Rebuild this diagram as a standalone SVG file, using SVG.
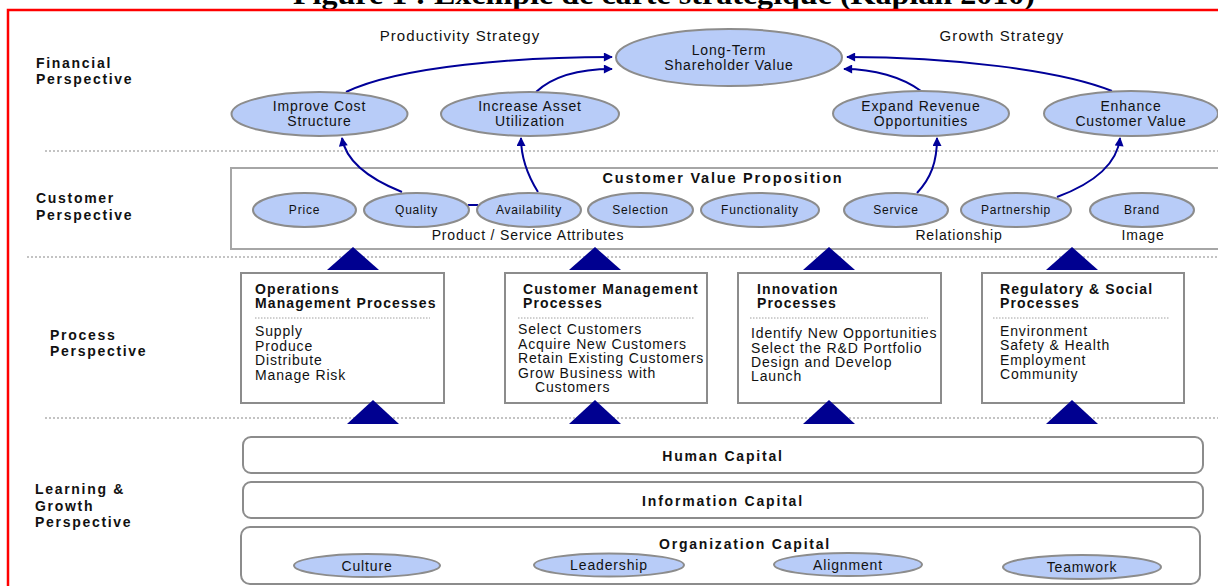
<svg xmlns="http://www.w3.org/2000/svg" width="1218" height="586" viewBox="0 0 1218 586">
<style>
text{font-family:"Liberation Sans",Arial,sans-serif;fill:#111;}
.title{font-family:"Liberation Serif","Times New Roman",serif;font-size:30px;font-weight:bold;fill:#000;}
.lbl{font-size:14px;font-weight:bold;letter-spacing:1.7px;}
.hd{font-size:15px;letter-spacing:1.1px;text-anchor:middle;}
.e{fill:#b8ccf8;stroke:#8c8c8c;stroke-width:2;}
.et{font-size:14px;letter-spacing:0.85px;text-anchor:middle;}
.es{font-size:12px;letter-spacing:0.8px;text-anchor:middle;}
.bx{fill:#fff;stroke:#8c8c8c;stroke-width:2;}
.cbx{fill:#fff;stroke:#a6a6a6;stroke-width:2;}
.bh{font-size:14px;font-weight:bold;letter-spacing:1.1px;}
.bt{font-size:14px;letter-spacing:0.85px;}
.ct{font-size:14px;letter-spacing:0.85px;text-anchor:middle;}
.cap{font-size:14px;font-weight:bold;letter-spacing:1.8px;text-anchor:middle;}
.sep{stroke:#b0b0b0;stroke-width:1.5;stroke-dasharray:2 2;fill:none;}
.isep{stroke:#a0a0a0;stroke-width:1;stroke-dasharray:1.5 1.5;fill:none;}
.tri{fill:#000090;}
.c{fill:none;stroke:#000099;stroke-width:2;}
</style>
<defs>
<marker id="ah" viewBox="0 0 10 10" refX="9" refY="5" markerWidth="10" markerHeight="9" markerUnits="userSpaceOnUse" orient="auto"><path d="M0,0 L10,5 L0,10 z" fill="#000099"/></marker>
</defs>
<rect x="0" y="0" width="1218" height="586" fill="#fff"/>
<text class="title" x="664" y="4" text-anchor="middle" textLength="742" lengthAdjust="spacingAndGlyphs">Figure 1 : Exemple de carte stratégique (Kaplan 2010)</text>
<path d="M8,586 L8,10 L1218,10" fill="none" stroke="#ff0000" stroke-width="2.5"/>

<g id="separators">
<line class="sep" x1="45" y1="151" x2="1218" y2="151"/>
<line class="sep" x1="27" y1="257" x2="1218" y2="257"/>
<line class="sep" x1="45" y1="418" x2="1218" y2="418"/>
</g>

<g id="perspective-labels">
<text class="lbl" x="36" y="68">Financial</text>
<text class="lbl" x="36" y="84">Perspective</text>
<text class="lbl" x="36" y="203">Customer</text>
<text class="lbl" x="36" y="220">Perspective</text>
<text class="lbl" x="50" y="340">Process</text>
<text class="lbl" x="50" y="356">Perspective</text>
<text class="lbl" x="35" y="494">Learning &amp;</text>
<text class="lbl" x="35" y="511">Growth</text>
<text class="lbl" x="35" y="527">Perspective</text>
</g>

<g id="strategy-labels">
<text class="hd" x="460" y="41">Productivity Strategy</text>
<text class="hd" x="1002" y="41">Growth Strategy</text>
</g>

<g id="customer-value-proposition">
<rect class="cbx" x="231" y="168" width="1000" height="81"/>
<text class="cap" x="723" y="183" style="font-size:14.5px">Customer Value Proposition</text>
<text class="ct" x="528" y="240">Product / Service Attributes</text>
<text class="ct" x="959" y="240">Relationship</text>
<text class="ct" x="1143" y="240">Image</text>
</g>

<g id="connectors">
<path class="c" d="M346,92 C400,66 520,57 612,57" marker-end="url(#ah)"/>
<path class="c" d="M536,92 C552,77 578,69 612,69" marker-end="url(#ah)"/>
<path class="c" d="M921,91 C902,77 874,69 844,69" marker-end="url(#ah)"/>
<path class="c" d="M1112,91 C1060,70 950,57 847,57" marker-end="url(#ah)"/>
<path class="c" d="M402,192 C372,180 346,162 342,138" marker-end="url(#ah)"/>
<path class="c" d="M538,192 C528,176 521,158 521,138" marker-end="url(#ah)"/>
<path class="c" d="M917,193 C931,178 937,162 937,138" marker-end="url(#ah)"/>
<path class="c" d="M1057,197 C1092,184 1117,165 1120,138" marker-end="url(#ah)"/>
<line class="c" x1="468" y1="205" x2="478" y2="205"/>
</g>

<g id="long-term-shareholder-value">
<ellipse class="e" cx="729" cy="57.5" rx="113" ry="28.5"/>
<text class="et" x="729" y="55">Long-Term</text>
<text class="et" x="729" y="70">Shareholder Value</text>
</g>
<g id="improve-cost-structure">
<ellipse class="e" cx="319.5" cy="114" rx="88" ry="22"/>
<text class="et" x="319.5" y="111">Improve Cost</text>
<text class="et" x="319.5" y="126">Structure</text>
</g>
<g id="increase-asset-utilization">
<ellipse class="e" cx="530" cy="114" rx="89" ry="22"/>
<text class="et" x="530" y="111">Increase Asset</text>
<text class="et" x="530" y="126">Utilization</text>
</g>
<g id="expand-revenue-opportunities">
<ellipse class="e" cx="921" cy="113.5" rx="88" ry="22.5"/>
<text class="et" x="921" y="111">Expand Revenue</text>
<text class="et" x="921" y="126">Opportunities</text>
</g>
<g id="enhance-customer-value">
<ellipse class="e" cx="1131" cy="113.5" rx="87" ry="22.5"/>
<text class="et" x="1131" y="111">Enhance</text>
<text class="et" x="1131" y="126">Customer Value</text>
</g>

<g id="price"><ellipse class="e" cx="304.5" cy="210" rx="51.5" ry="17"/><text class="es" x="304.5" y="214">Price</text></g>
<g id="quality"><ellipse class="e" cx="416.5" cy="210" rx="52.5" ry="17"/><text class="es" x="416.5" y="214">Quality</text></g>
<g id="availability"><ellipse class="e" cx="529" cy="210" rx="52" ry="17"/><text class="es" x="529" y="214">Availability</text></g>
<g id="selection"><ellipse class="e" cx="640.5" cy="210" rx="52.5" ry="17"/><text class="es" x="640.5" y="214">Selection</text></g>
<g id="functionality"><ellipse class="e" cx="760" cy="210" rx="59" ry="17"/><text class="es" x="760" y="214">Functionality</text></g>
<g id="service"><ellipse class="e" cx="896" cy="210" rx="52" ry="17"/><text class="es" x="896" y="214">Service</text></g>
<g id="partnership"><ellipse class="e" cx="1016" cy="210" rx="55" ry="17"/><text class="es" x="1016" y="214">Partnership</text></g>
<g id="brand"><ellipse class="e" cx="1142" cy="210" rx="52" ry="17"/><text class="es" x="1142" y="214">Brand</text></g>

<g id="operations-management-processes">
<rect class="bx" x="241" y="273" width="203" height="130"/>
<text class="bh" x="255" y="294">Operations</text>
<text class="bh" x="255" y="308">Management Processes</text>
<line class="isep" x1="255" y1="318" x2="430" y2="318"/>
<text class="bt" x="255" y="336">Supply</text>
<text class="bt" x="255" y="350.5">Produce</text>
<text class="bt" x="255" y="365">Distribute</text>
<text class="bt" x="255" y="379.5">Manage Risk</text>
</g>
<g id="customer-management-processes">
<rect class="bx" x="505" y="273" width="202" height="130"/>
<text class="bh" x="523" y="294">Customer Management</text>
<text class="bh" x="523" y="308">Processes</text>
<line class="isep" x1="518" y1="318" x2="695" y2="318"/>
<text class="bt" x="518" y="334">Select Customers</text>
<text class="bt" x="518" y="348.5">Acquire New Customers</text>
<text class="bt" x="518" y="363">Retain Existing Customers</text>
<text class="bt" x="518" y="377.5">Grow Business with</text>
<text class="bt" x="535" y="392">Customers</text>
</g>
<g id="innovation-processes">
<rect class="bx" x="738" y="273" width="203" height="130"/>
<text class="bh" x="757" y="294">Innovation</text>
<text class="bh" x="757" y="308">Processes</text>
<line class="isep" x1="750" y1="318" x2="928" y2="318"/>
<text class="bt" x="751" y="338">Identify New Opportunities</text>
<text class="bt" x="751" y="352.5">Select the R&amp;D Portfolio</text>
<text class="bt" x="751" y="367">Design and Develop</text>
<text class="bt" x="751" y="381">Launch</text>
</g>
<g id="regulatory-social-processes">
<rect class="bx" x="982" y="273" width="202" height="130"/>
<text class="bh" x="1000" y="294">Regulatory &amp; Social</text>
<text class="bh" x="1000" y="308">Processes</text>
<line class="isep" x1="993" y1="318" x2="1170" y2="318"/>
<text class="bt" x="1000" y="335.5">Environment</text>
<text class="bt" x="1000" y="350">Safety &amp; Health</text>
<text class="bt" x="1000" y="364.5">Employment</text>
<text class="bt" x="1000" y="379">Community</text>
</g>

<g id="triangles">
<polygon class="tri" points="353,247 327,270 379,270"/>
<polygon class="tri" points="595,247 569,270 621,270"/>
<polygon class="tri" points="829,247 803,270 855,270"/>
<polygon class="tri" points="1072,247 1046,270 1098,270"/>
<polygon class="tri" points="373,400 347,424 399,424"/>
<polygon class="tri" points="595,400 569,424 621,424"/>
<polygon class="tri" points="829,400 803,424 855,424"/>
<polygon class="tri" points="1072,400 1046,424 1098,424"/>
</g>

<g id="human-capital">
<rect class="bx" x="243" y="437" width="960" height="36" rx="8"/>
<text class="cap" x="723" y="461">Human Capital</text>
</g>
<g id="information-capital">
<rect class="bx" x="243" y="482" width="960" height="36" rx="8"/>
<text class="cap" x="723" y="506">Information Capital</text>
</g>
<g id="organization-capital">
<rect class="bx" x="241" y="527" width="959" height="57" rx="9"/>
<text class="cap" x="745" y="549">Organization Capital</text>
</g>
<g id="culture"><ellipse class="e" cx="367" cy="565.5" rx="73" ry="11.5"/><text class="et" x="367" y="570.5">Culture</text></g>
<g id="leadership"><ellipse class="e" cx="609" cy="565" rx="75" ry="11.5"/><text class="et" x="609" y="570">Leadership</text></g>
<g id="alignment"><ellipse class="e" cx="848" cy="564.5" rx="74" ry="11.5"/><text class="et" x="848" y="569.5">Alignment</text></g>
<g id="teamwork"><ellipse class="e" cx="1082" cy="567" rx="79" ry="12"/><text class="et" x="1082" y="572">Teamwork</text></g>
</svg>
